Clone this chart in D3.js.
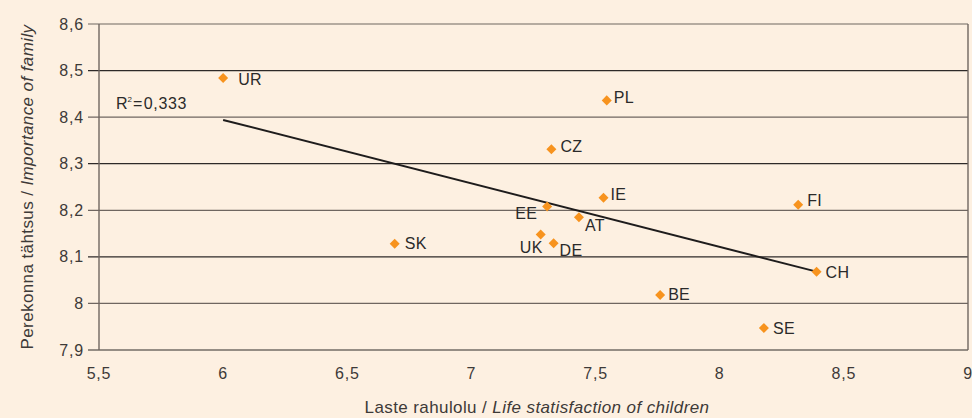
<!DOCTYPE html>
<html><head><meta charset="utf-8">
<script src="https://cdn.jsdelivr.net/npm/d3@7"></script>
<style>
html,body{margin:0;padding:0;background:#fdf0e1;}
svg{display:block;font-family:"Liberation Sans",Arial,Helvetica,sans-serif;}
</style></head>
<body><svg id="c" width="972" height="418"></svg>
<script>
const countries = ["UR","PL","CZ","IE","EE","AT","UK","DE","SK","FI","CH","BE","SE"];
const childSatisfaction = [6.00,7.545,7.322,7.532,7.305,7.433,7.279,7.331,6.691,8.316,8.39,7.76,8.178];
const familyImportance = [8.484,8.436,8.331,8.227,8.208,8.185,8.148,8.129,8.128,8.212,8.068,8.018,7.947];
const xTicks = [5.5,6,6.5,7,7.5,8,8.5,9];
const yTicks = [7.9,8,8.1,8.2,8.3,8.4,8.5,8.6];
const r2Label = "0,333";
const xTitle = ["Laste rahulolu / ", "Life statisfaction of children"];
const yTitle = ["Perekonna tähtsus / ", "Importance of family"];
// label placement: [dx, dy, anchor]
const labelPos = {
  UR:[15,1,"start"], PL:[7,-3,"start"], CZ:[9,-3,"start"], IE:[7,-3,"start"],
  EE:[-10,7,"end"], AT:[6,8,"start"], UK:[2,13,"end"], DE:[6,7,"start"],
  SK:[10,0,"start"], FI:[9,-4,"start"], CH:[9,1,"start"], BE:[8,-1,"start"], SE:[9,0,"start"]
};

const svg = d3.select("#c");
const W=972,H=418;
svg.append("rect").attr("width",W).attr("height",H).attr("fill","#fdf0e1");
const L=99,R=968,T=24,B=350;
const x = d3.scaleLinear().domain([5.5,9]).range([L,R]);
const y = d3.scaleLinear().domain([7.9,8.6]).range([B,T]);
const fmt = d => String(d).replace(".",",");
const textCol = "#3d3a38";

// gridlines
const g = svg.append("g");
g.selectAll("line.grid").data(yTicks).join("line")
  .attr("x1",L-11).attr("x2",R).attr("y1",d=>y(d)).attr("y2",d=>y(d))
  .attr("stroke",(d,i)=> i%2===0 ? "#2e2a28" : "#6f6660").attr("stroke-width",1.2);
// left axis line & right border
g.append("line").attr("x1",L).attr("x2",L).attr("y1",T).attr("y2",B).attr("stroke","#6f6660").attr("stroke-width",1.4);
g.append("line").attr("x1",R).attr("x2",R).attr("y1",T).attr("y2",B).attr("stroke","#6f6660").attr("stroke-width",1.4);

// y tick labels
svg.append("g").selectAll("text").data(yTicks).join("text")
  .attr("x",L-15).attr("y",d=>y(d)).attr("dy","0.35em").attr("text-anchor","end")
  .attr("font-size",16).attr("letter-spacing",0.8).attr("fill",textCol).text(fmt);
// x tick labels
svg.append("g").selectAll("text").data(xTicks).join("text")
  .attr("x",d=>x(d)).attr("y",B+29).attr("text-anchor","middle")
  .attr("font-size",16).attr("letter-spacing",0.8).attr("fill",textCol).text(fmt);

// regression line computed from data
const n = childSatisfaction.length;
const mx = d3.mean(childSatisfaction), my = d3.mean(familyImportance);
let sxy=0,sxx=0;
for(let i=0;i<n;i++){const dx=childSatisfaction[i]-mx;sxy+=dx*(familyImportance[i]-my);sxx+=dx*dx;}
const slope=sxy/sxx, icpt=my-slope*mx;
const [xmin,xmax]=d3.extent(childSatisfaction);
svg.append("line").attr("x1",x(xmin)).attr("y1",y(icpt+slope*xmin))
  .attr("x2",x(xmax)).attr("y2",y(icpt+slope*xmax))
  .attr("stroke","#1e1c1c").attr("stroke-width",2);

// R² label
const rt = svg.append("text").attr("x",116).attr("y",109).attr("font-size",16).attr("fill","#2a2a2a");
rt.append("tspan").text("R");
rt.append("tspan").attr("font-size",8).attr("dy",-7).text("2");
rt.append("tspan").attr("dy",7).attr("dx",1).text("=").attr("letter-spacing",1.5);
rt.append("tspan").attr("letter-spacing",0.6).text(r2Label);

// points
const data = countries.map((c,i)=>({c,x:childSatisfaction[i],y:familyImportance[i]}));
svg.append("g").selectAll("path").data(data).join("path")
  .attr("transform",d=>`translate(${x(d.x)},${y(d.y)})`)
  .attr("d",d3.symbol(d3.symbolDiamond2,64)())
  .attr("fill","#f7931e");
svg.append("g").selectAll("text").data(data).join("text")
  .attr("x",d=>x(d.x)+labelPos[d.c][0]).attr("y",d=>y(d.y)+labelPos[d.c][1])
  .attr("dy","0.35em").attr("text-anchor",d=>labelPos[d.c][2])
  .attr("font-size",16).attr("letter-spacing",0.3).attr("fill","#2a2a2a").text(d=>d.c);

// axis titles
const xt = svg.append("text").attr("x",537).attr("y",413).attr("text-anchor","middle")
  .attr("font-size",17).attr("letter-spacing",0.4).attr("fill",textCol);
xt.append("tspan").text(xTitle[0]);
xt.append("tspan").attr("font-style","italic").text(xTitle[1]);
const yt = svg.append("text").attr("transform","translate(33,187) rotate(-90)").attr("text-anchor","middle")
  .attr("font-size",17).attr("letter-spacing",0.4).attr("fill",textCol);
yt.append("tspan").text(yTitle[0]);
yt.append("tspan").attr("font-style","italic").text(yTitle[1]);
</script></body></html>
